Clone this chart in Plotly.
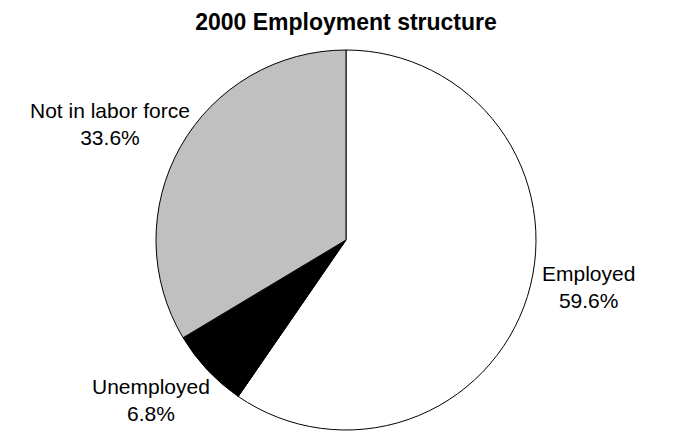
import plotly.graph_objects as go

categories = ["Employed", "Unemployed", "Not in labor force"]
values = [59.6, 6.8, 33.6]
colors = ["#FFFFFF", "#000000", "#C0C0C0"]
title_text = "2000 Employment structure"

W, H = 678, 431
cx, cy, r = 346, 240, 190

fig = go.Figure(go.Pie(
    labels=categories,
    values=values,
    sort=False,
    direction="clockwise",
    rotation=0,
    marker=dict(colors=colors, line=dict(color="#000000", width=1)),
    textinfo="none",
    hoverinfo="label+percent",
    domain=dict(x=[(cx - r) / W, (cx + r) / W], y=[1 - (cy + r) / H, 1 - (cy - r) / H]),
))

label_pos = {
    "Employed": (588, 287),
    "Unemployed": (151, 400),
    "Not in labor force": (110, 124),
}
annotations = []
for cat, val in zip(categories, values):
    px, py = label_pos[cat]
    annotations.append(dict(
        x=px / W, y=1 - py / H, xref="paper", yref="paper",
        text=f"{cat}<br>{val:.1f}%", showarrow=False,
        xanchor="center", yanchor="middle", align="center",
        font=dict(family="Arial, Liberation Sans, sans-serif", size=21, color="#000000"),
    ))

fig.update_layout(
    width=W, height=H,
    margin=dict(l=0, r=0, t=0, b=0),
    paper_bgcolor="#FFFFFF",
    plot_bgcolor="#FFFFFF",
    showlegend=False,
    title=dict(
        text=f"<b>{title_text}</b>", x=cx / W, y=1 - 22 / H,
        xanchor="center", yanchor="middle",
        font=dict(family="Arial, Liberation Sans, sans-serif", size=23, color="#000000"),
    ),
    annotations=annotations,
)

fig.write_html("out.html", config={"displayModeBar": False},
               post_script="document.body.style.margin='0';")
